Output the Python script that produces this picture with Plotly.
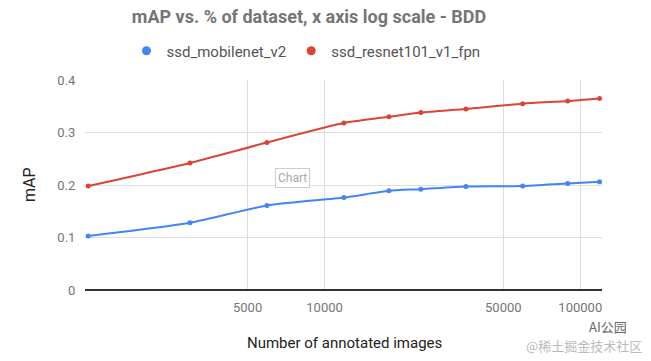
import plotly.graph_objects as go

images = [1190, 2975, 5950, 11900, 17850, 23800, 35700, 59500, 89250, 119000]
mobilenet = [0.103, 0.128, 0.161, 0.176, 0.189, 0.192, 0.197, 0.198, 0.203, 0.206]
resnet = [0.198, 0.242, 0.281, 0.318, 0.330, 0.338, 0.345, 0.355, 0.360, 0.365]
series_names = ["ssd_mobilenet_v2", "ssd_resnet101_v1_fpn"]
colors = ["#4285F4", "#DB4437"]
x_ticks = [5000, 10000, 50000, 100000]
y_ticks = [0, 0.1, 0.2, 0.3, 0.4]

W, H = 651, 361
L, R, T, B = 85, 49, 80, 71

fig = go.Figure()
for name, vals, col in zip(series_names, [mobilenet, resnet], colors):
    fig.add_trace(go.Scatter(
        x=images, y=vals, name=name, mode="lines+markers", showlegend=False,
        line=dict(color=col, width=2, shape="spline", smoothing=0.6),
        marker=dict(color=col, size=5),
    ))
# legend entries (circle only, as in the reference)
for name, col in zip(series_names, colors):
    fig.add_trace(go.Scatter(
        x=[None], y=[None], name=name, mode="markers",
        marker=dict(color=col, size=9),
    ))


def px_x(p):
    return (p - L) / (W - L - R)


def px_y(p):
    return 1 - (p - T) / (H - T - B)


fig.update_layout(
    width=W, height=H,
    margin=dict(l=L, r=R, t=T, b=B),
    paper_bgcolor="white", plot_bgcolor="white",
    font=dict(family="Roboto", color="#757575", size=13),
    title=dict(text="<b>mAP vs. % of dataset, x axis log scale - BDD</b>",
               x=309 / W, xanchor="center", y=1 - 17 / H, yanchor="middle",
               yref="container", xref="container",
               font=dict(family="Roboto", size=18, color="#757575")),
    legend=dict(orientation="h", x=px_x(306), xanchor="center",
                y=px_y(51), yanchor="middle",
                font=dict(family="Roboto", size=15, color="#555555"),
                itemwidth=30, tracegroupgap=0),
    showlegend=True,
    xaxis=dict(type="log", range=[3.063, 5.085], tickvals=x_ticks,
               ticktext=[str(v) for v in x_ticks],
               showgrid=True, gridcolor="#dcdcdc", gridwidth=1,
               zeroline=False, showline=False, ticks="outside",
               ticklen=5, tickcolor="rgba(0,0,0,0)",
               tickfont=dict(size=13, color="#757575")),
    yaxis=dict(range=[0, 0.4], tickvals=y_ticks,
               ticktext=["0", "0.1", "0.2", "0.3", "0.4"],
               showgrid=True, gridcolor="#e0e0e0", gridwidth=1,
               zeroline=True, zerolinecolor="#333333", zerolinewidth=1.5,
               ticks="outside", ticklen=6, tickcolor="rgba(0,0,0,0)",
               tickfont=dict(size=13, color="#757575")),
    annotations=[
        dict(text="Number of annotated images", xref="paper", yref="paper",
             x=px_x(344), y=px_y(343), xanchor="center", yanchor="middle",
             showarrow=False, font=dict(family="Roboto", size=15, color="#222222")),
        dict(text="mAP", xref="paper", yref="paper", textangle=-90,
             x=px_x(29), y=px_y(185), xanchor="center", yanchor="middle",
             showarrow=False, font=dict(family="Roboto", size=16, color="#222222")),
        dict(text="Chart", xref="paper", yref="paper",
             x=px_x(292), y=px_y(178), xanchor="center", yanchor="middle",
             showarrow=False, bgcolor="white", bordercolor="#cccccc", borderwidth=1,
             borderpad=2, font=dict(family="Roboto", size=12, color="#aaaaaa")),
        dict(text="AI公园", xref="paper", yref="paper",
             x=px_x(608), y=px_y(326), xanchor="center", yanchor="middle",
             showarrow=False, font=dict(family="Noto Sans CJK SC", size=13, color="#666666")),
        dict(text="@稀土掘金技术社区", xref="paper", yref="paper",
             x=px_x(584), y=px_y(345), xanchor="center", yanchor="middle",
             showarrow=False, font=dict(family="Noto Sans CJK SC", size=13, color="#bbbbbb")),
    ],
)

fig.write_html("out.html", config={"displayModeBar": False},
               post_script="document.body.style.margin='0';")
